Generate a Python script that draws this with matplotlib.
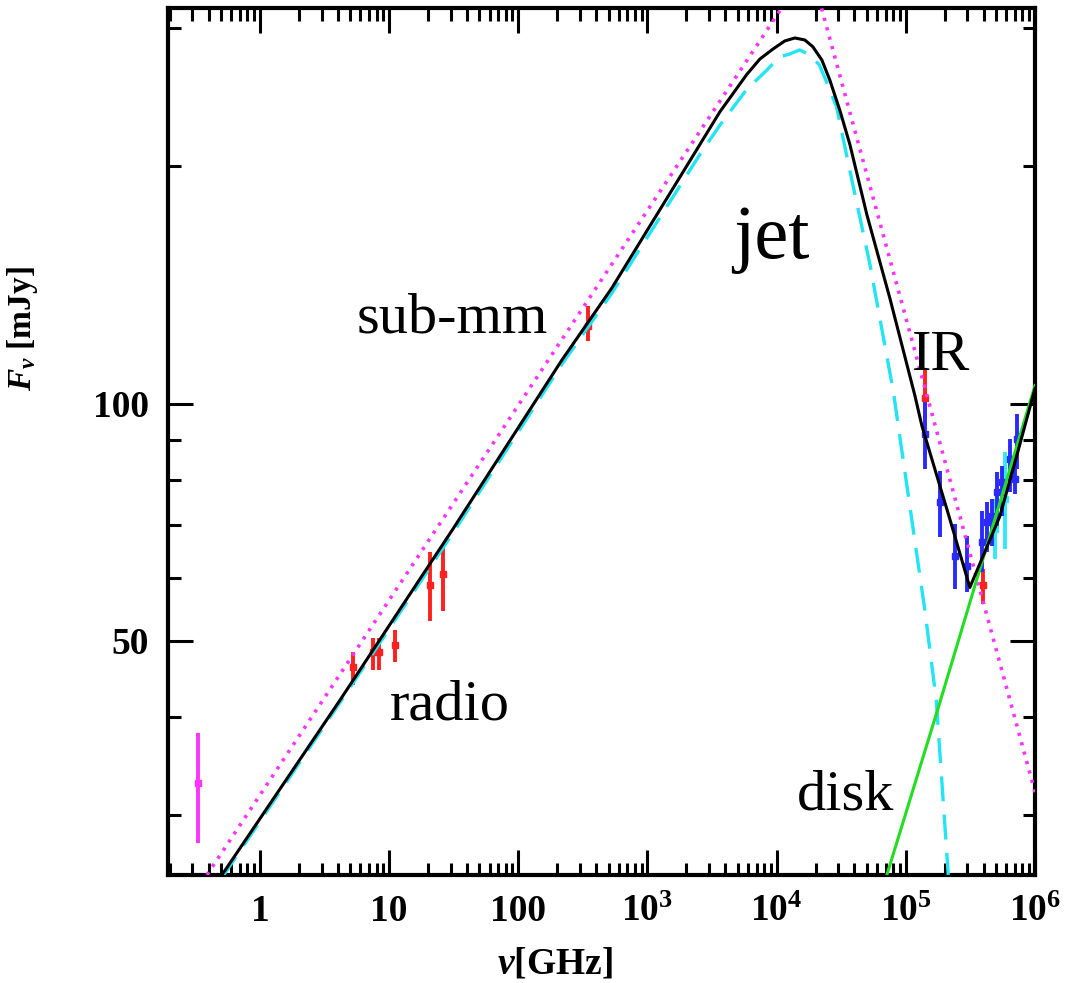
import numpy as np
import matplotlib
matplotlib.use("Agg")
import matplotlib.pyplot as plt
from matplotlib.ticker import FixedLocator, NullFormatter

plt.rcParams["font.family"] = ["Liberation Serif", "DejaVu Serif"]
plt.rcParams["mathtext.fontset"] = "custom"
plt.rcParams["mathtext.rm"] = "Liberation Serif:bold"
plt.rcParams["mathtext.bf"] = "Liberation Serif:bold"
plt.rcParams["mathtext.it"] = "Liberation Serif:italic:bold"

# model curves (GHz, mJy)
total_nu = [0.508, 4.16, 31.2, 217, 530, 2546, 3631, 5875, 7413, 9350, 11560, 13830,
            16520, 19060, 22390, 25810, 30830, 36870, 49930, 75180, 117400, 133100,
            219200, 312900, 534200, 723000, 1.0e6]
total_f = [25.2, 42.0, 69.3, 113.5, 140.2, 213.3, 234.6, 261.8, 273.8, 281.9, 288.7, 291.2,
           289.5, 283.8, 273.0, 257.4, 235.7, 213.3, 173.7, 136.1, 102.4, 93.7,
           71.3, 58.4, 71.9, 85.9, 104.5]

jet_nu = [0.508, 4.16, 31.2, 217, 530, 2546, 3631, 5875, 8110, 10520, 12650, 15070,
          18070, 21450, 24910, 29140, 32540, 36870, 52790, 80000, 113000, 140000,
          172000, 213000]
jet_f = [25.0, 41.7, 68.5, 112.1, 138.1, 207.2, 225.6, 250.7, 263.6, 275.5, 277.9, 281.2,
         277.1, 269.0, 253.7, 237.8, 217.8, 197.6, 150.0, 103.6, 69.9, 54.8,
         42.0, 25.2]

disk_nu = [71300, 183200, 1.0e6]
disk_f = [25.2, 41.7, 105.4]

plaw_nu = [0.389, 18070, 1.0e6]
plaw_f = [25.2, 360, 32.1]

# data points: nu, flux, lower error, upper error
low_nu = [0.331]
low_f = [33.0]
low_lo = [5.3]
low_hi = [5.2]

red_nu = [5.25, 7.49, 8.34, 11.09, 20.7, 26.1, 345.7, 140300, 394500]
red_f = [46.3, 48.3, 48.4, 49.4, 58.9, 60.7, 125.4, 101.5, 58.9]
red_lo = [2.4, 2.4, 2.5, 2.4, 6.0, 6.2, 5.4, 8.6, 3.3]
red_hi = [2.0, 2.1, 2.0, 2.2, 5.8, 5.6, 7.6, 9.3, 2.7]

cyan_nu = [488400, 583700]
cyan_f = [69.3, 75.6]
cyan_lo = [5.9, 10.3]
cyan_hi = [6.3, 11.3]

blue_nu = [140000, 183300, 239400, 296600, 387400, 423600, 463000, 506000,
           553400, 638000, 698000, 723000]
blue_f = [91.5, 75.0, 64.0, 62.1, 66.7, 70.7, 71.9, 77.2, 79.5, 85.0, 80.2, 90.2]
blue_lo = [8.9, 7.3, 5.9, 4.5, 5.6, 6.0, 6.0, 8.5, 7.6, 7.8, 3.4, 7.6]
blue_hi = [9.1, 7.1, 6.3, 5.8, 6.4, 4.3, 3.7, 4.7, 3.8, 5.2, 3.6, 6.9]

xticks = [1, 10, 100, 1e3, 1e4, 1e5, 1e6]
xticklabels = ["1", "10", "100", r"$10^{3}$", r"$10^{4}$", r"$10^{5}$", r"$10^{6}$"]
yticks = [50, 100]
yminor = [30, 40, 60, 70, 80, 90, 200, 300]

fig = plt.figure(figsize=(10.7, 9.83), dpi=100)
ax = fig.add_axes([0.157, 0.11, 0.8103, 0.882])

ekw = dict(fmt="s", ms=5, elinewidth=2.8, capsize=0, zorder=2)
ax.errorbar(low_nu, low_f, yerr=[low_lo, low_hi], color="#ff33ff", **ekw)
ax.errorbar(red_nu, red_f, yerr=[red_lo, red_hi], color="#ff2020", **ekw)
ax.errorbar(cyan_nu, cyan_f, yerr=[cyan_lo, cyan_hi], color="#30e8ff", **ekw)
ax.errorbar(blue_nu, blue_f, yerr=[blue_lo, blue_hi], color="#2a2aff", **ekw)

ax.plot(plaw_nu, plaw_f, color="#ff33ff", lw=2.6, ls=(0, (0.9, 1.8)), zorder=3)
ax.plot(jet_nu, jet_f, color="#22e4f4", lw=2.4, ls=(0, (7.5, 4)), zorder=3)
ax.plot(disk_nu, disk_f, color="#22dd22", lw=2.2, zorder=3)
ax.plot(total_nu, total_f, color="black", lw=2.2, zorder=4)

ax.set_xscale("log")
ax.set_yscale("log")
ax.set_xlim(0.194, 1.0e6)
ax.set_ylim(25.2, 318)

ax.xaxis.set_major_locator(FixedLocator(xticks))
ax.set_xticklabels(xticklabels)
ax.xaxis.set_minor_formatter(NullFormatter())
ax.yaxis.set_major_locator(FixedLocator(yticks))
ax.yaxis.set_minor_locator(FixedLocator(yminor))
ax.set_yticklabels([str(v) for v in yticks])
ax.yaxis.set_minor_formatter(NullFormatter())

ax.tick_params(which="both", direction="in", top=True, right=True, width=2.2)
ax.tick_params(which="major", length=18, labelsize=27, pad=14)
ax.tick_params(which="minor", length=9)
for lab in ax.get_xticklabels() + ax.get_yticklabels():
    lab.set_fontweight("bold")
for s in ax.spines.values():
    s.set_linewidth(3)

ax.set_xlabel(r"$\nu$[GHz]", fontsize=27, fontweight="bold")
ax.xaxis.set_label_coords(0.446, -0.083)
ax.set_ylabel(r"$F_{\nu}$ [mJy]", fontsize=24, fontweight="bold")
ax.yaxis.set_label_coords(-0.148, 0.63)

tkw = dict(transform=ax.transAxes, va="baseline", ha="left", color="black")
ax.text(0.652, 0.712, "jet", fontsize=55, **tkw)
ax.text(0.218, 0.626, "sub-mm", fontsize=42, **tkw)
ax.text(0.858, 0.582, "IR", fontsize=42, **tkw)
ax.text(0.256, 0.179, "radio", fontsize=42, **tkw)
ax.text(0.7255, 0.075, "disk", fontsize=42, **tkw)

fig.savefig("out.png", dpi=100)
